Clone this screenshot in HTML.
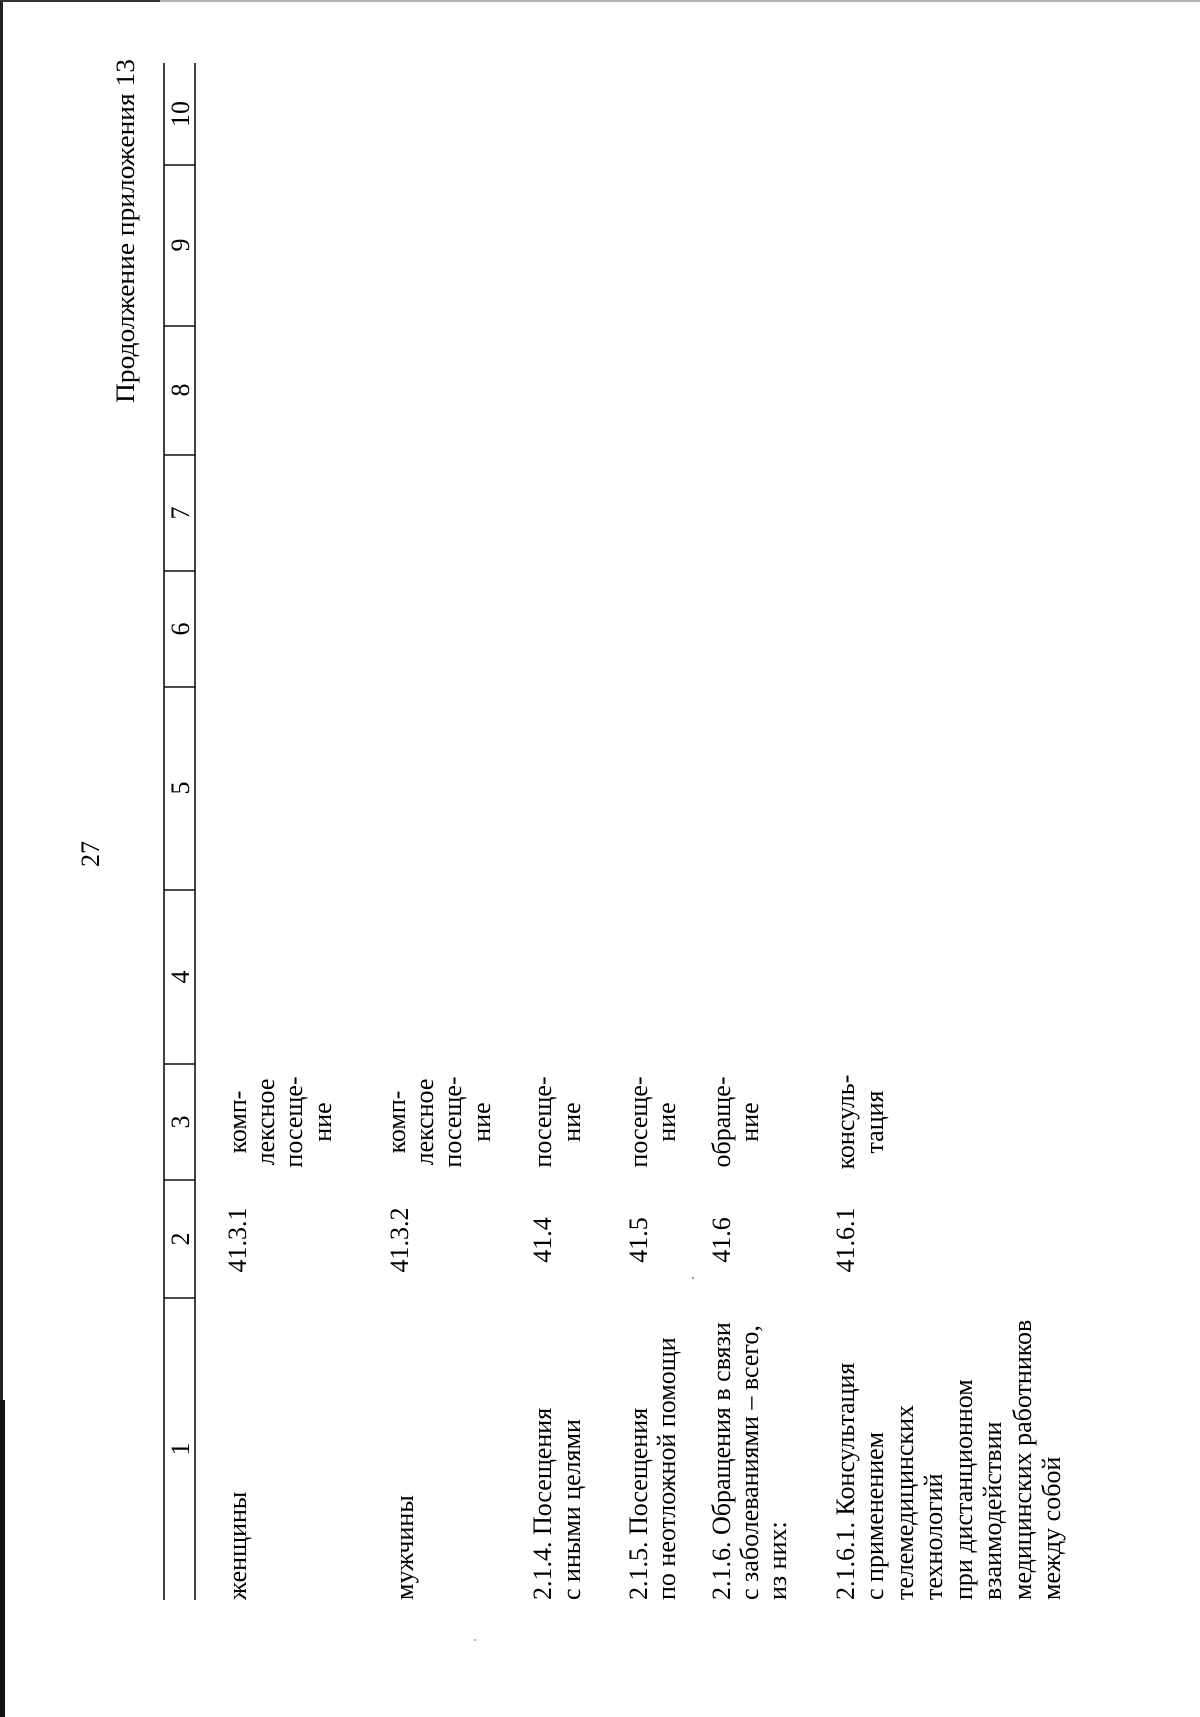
<!DOCTYPE html>
<html><head><meta charset="utf-8">
<style>
html,body{margin:0;padding:0;background:#fff;}
svg{display:block;}
text{font-family:"Liberation Serif",serif;font-size:26px;fill:#000;}
</style></head>
<body>
<svg width="1200" height="1717" viewBox="0 0 1200 1717" xmlns="http://www.w3.org/2000/svg">
<rect x="0" y="0" width="1200" height="1717" fill="#fff"/>
<rect x="0" y="0" width="3" height="1717" fill="#222"/>
<rect x="0" y="1400" width="5" height="317" fill="#111"/>
<line x1="0" y1="1" x2="1200" y2="1" stroke="#999" stroke-width="1.5"/>
<line x1="0" y1="1" x2="160" y2="1" stroke="#333" stroke-width="2"/>

<g stroke="#111" stroke-width="1.6">
<line x1="164" y1="63" x2="164" y2="1600"/>
<line x1="195" y1="63" x2="195" y2="1600"/>
<line x1="164" y1="165" x2="195" y2="165"/>
<line x1="164" y1="326" x2="195" y2="326"/>
<line x1="164" y1="455" x2="195" y2="455"/>
<line x1="164" y1="571" x2="195" y2="571"/>
<line x1="164" y1="687" x2="195" y2="687"/>
<line x1="164" y1="890" x2="195" y2="890"/>
<line x1="164" y1="1064" x2="195" y2="1064"/>
<line x1="164" y1="1180" x2="195" y2="1180"/>
<line x1="164" y1="1298" x2="195" y2="1298"/>
</g>
<g text-anchor="middle">
<text transform="translate(189,114) rotate(-90)">10</text>
<text transform="translate(189,245) rotate(-90)">9</text>
<text transform="translate(189,390) rotate(-90)">8</text>
<text transform="translate(189,513) rotate(-90)">7</text>
<text transform="translate(189,629) rotate(-90)">6</text>
<text transform="translate(189,788) rotate(-90)">5</text>
<text transform="translate(189,977) rotate(-90)">4</text>
<text transform="translate(189,1122) rotate(-90)">3</text>
<text transform="translate(189,1239) rotate(-90)">2</text>
<text transform="translate(189,1449) rotate(-90)">1</text>
</g>

<text transform="translate(134,403) rotate(-90)" textLength="344" lengthAdjust="spacingAndGlyphs">Продолжение приложения 13</text>
<text transform="translate(99,854) rotate(-90)" text-anchor="middle">27</text>

<g text-anchor="start">
<text transform="translate(246,1600) rotate(-90)">женщины</text>
<text transform="translate(413,1600) rotate(-90)">мужчины</text>
<text transform="translate(551,1600) rotate(-90)">2.1.4. Посещения</text>
<text transform="translate(580,1600) rotate(-90)">с иными целями</text>
<text transform="translate(647,1600) rotate(-90)">2.1.5. Посещения</text>
<text transform="translate(675,1600) rotate(-90)">по неотложной помощи</text>
<text transform="translate(730,1600) rotate(-90)">2.1.6. Обращения в связи</text>
<text transform="translate(758,1600) rotate(-90)">с заболеваниями – всего,</text>
<text transform="translate(786,1600) rotate(-90)">из них:</text>
<text transform="translate(854,1600) rotate(-90)">2.1.6.1. Консультация</text>
<text transform="translate(883,1600) rotate(-90)">с применением</text>
<text transform="translate(913,1600) rotate(-90)">телемедицинских</text>
<text transform="translate(942,1600) rotate(-90)">технологий</text>
<text transform="translate(972,1600) rotate(-90)">при дистанционном</text>
<text transform="translate(1001,1600) rotate(-90)">взаимодействии</text>
<text transform="translate(1031,1600) rotate(-90)">медицинских работников</text>
<text transform="translate(1060,1600) rotate(-90)">между собой</text>
</g>

<g text-anchor="middle">
<text transform="translate(246,1240) rotate(-90)">41.3.1</text>
<text transform="translate(408,1240) rotate(-90)">41.3.2</text>
<text transform="translate(551,1240) rotate(-90)">41.4</text>
<text transform="translate(647,1240) rotate(-90)">41.5</text>
<text transform="translate(730,1240) rotate(-90)">41.6</text>
<text transform="translate(854,1240) rotate(-90)">41.6.1</text>
</g>

<g text-anchor="middle">
<text transform="translate(246,1122) rotate(-90)">комп-</text>
<text transform="translate(274,1122) rotate(-90)">лексное</text>
<text transform="translate(302,1122) rotate(-90)">посеще-</text>
<text transform="translate(331,1122) rotate(-90)">ние</text>
<text transform="translate(405,1122) rotate(-90)">комп-</text>
<text transform="translate(433,1122) rotate(-90)">лексное</text>
<text transform="translate(461,1122) rotate(-90)">посеще-</text>
<text transform="translate(490,1122) rotate(-90)">ние</text>
<text transform="translate(551,1122) rotate(-90)">посеще-</text>
<text transform="translate(580,1122) rotate(-90)">ние</text>
<text transform="translate(647,1122) rotate(-90)">посеще-</text>
<text transform="translate(675,1122) rotate(-90)">ние</text>
<text transform="translate(730,1122) rotate(-90)">обраще-</text>
<text transform="translate(758,1122) rotate(-90)">ние</text>
<text transform="translate(854,1122) rotate(-90)">консуль-</text>
<text transform="translate(883,1122) rotate(-90)">тация</text>
</g>

<circle cx="693" cy="1278" r="1" fill="#777"/>
<circle cx="475" cy="1640" r="1" fill="#999"/>
</svg>
</body></html>
